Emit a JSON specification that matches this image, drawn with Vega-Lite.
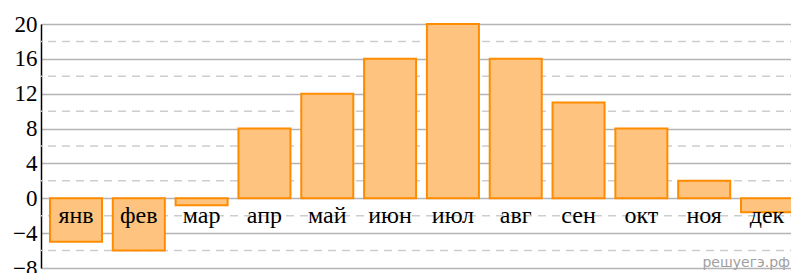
{
  "$schema": "https://vega.github.io/schema/vega-lite/v6.json",
  "width": 761,
  "height": 244,
  "autosize": {"type": "none"},
  "padding": {"left": 41, "top": 24, "right": 0, "bottom": 5},
  "background": "white",
  "config": {
    "view": {"stroke": null},
    "axisY": {"title": null, "ticks": false,
              "labelFont": "Liberation Serif", "labelFontSize": 23, "labelColor": "black",
              "labelPadding": 4, "domainColor": "black", "domainWidth": 1.5,
              "gridColor": "#b4b4b4", "gridWidth": 1.5, "labelFlush": false,
              "labelOverlap": false, "labelBound": false, "grid": true}
  },
  "datasets": {
    "temps": [
      {"month": "янв", "t": -5},
      {"month": "фев", "t": -6},
      {"month": "мар", "t": -0.8},
      {"month": "апр", "t": 8},
      {"month": "май", "t": 12},
      {"month": "июн", "t": 16},
      {"month": "июл", "t": 20},
      {"month": "авг", "t": 16},
      {"month": "сен", "t": 11},
      {"month": "окт", "t": 8},
      {"month": "ноя", "t": 2},
      {"month": "дек", "t": -1.6}
    ],
    "dashes": [{"v": -6}, {"v": -2}, {"v": 2}, {"v": 6}, {"v": 10}, {"v": 14}, {"v": 18}],
    "mark": [{"month": "дек", "label": "решуегэ.рф"}]
  },
  "layer": [
    {
      "data": {"name": "dashes"},
      "mark": {"type": "rule", "color": "#cdcdcd", "strokeWidth": 1.5, "strokeDash": [8, 6], "strokeDashOffset": -4},
      "encoding": {
        "y": {"field": "v", "type": "quantitative", "scale": {"domain": [-8, 20], "nice": false},
              "axis": {"values": [-8, -4, 0, 4, 8, 12, 16, 20]}}
      }
    },
    {
      "data": {"name": "temps"},
      "mark": {"type": "bar", "fill": "#fec47f", "stroke": "#ff8c00", "strokeWidth": 2, "fillOpacity": 1},
      "encoding": {
        "x": {"field": "month", "type": "nominal", "sort": null, "axis": null,
              "scale": {"paddingInner": 0.172, "paddingOuter": 0.143}},
        "y": {"field": "t", "type": "quantitative", "axis": {"values": [-8, -4, 0, 4, 8, 12, 16, 20]}},
        "y2": {"datum": 0}
      }
    },
    {
      "mark": {"type": "rule", "color": "black", "strokeWidth": 1.5},
      "encoding": {"y": {"datum": 0, "axis": {"values": [-8, -4, 0, 4, 8, 12, 16, 20]}}}
    },
    {
      "data": {"name": "temps"},
      "mark": {"type": "text", "font": "Liberation Serif", "fontSize": 24, "color": "black", "baseline": "middle", "align": "center"},
      "encoding": {
        "x": {"field": "month", "type": "nominal", "sort": null},
        "y": {"datum": -2, "axis": {"values": [-8, -4, 0, 4, 8, 12, 16, 20]}},
        "text": {"field": "month"}
      }
    },
    {
      "data": {"name": "mark"},
      "mark": {"type": "text", "font": "DejaVu Sans", "fontSize": 14, "color": "#a0a0a0", "baseline": "bottom", "align": "right", "dx": 23, "dy": 2},
      "encoding": {
        "x": {"field": "month", "type": "nominal", "sort": null},
        "y": {"datum": -8, "axis": {"values": [-8, -4, 0, 4, 8, 12, 16, 20]}},
        "text": {"field": "label"}
      }
    }
  ]
}
